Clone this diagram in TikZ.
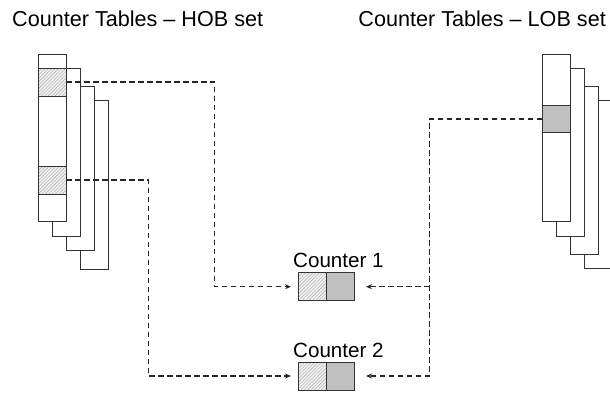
\documentclass[tikz,border=0pt]{standalone}
\usepackage{fontspec}
\setmainfont{Liberation Sans}
\usetikzlibrary{patterns.meta,arrows.meta}
\definecolor{edge}{HTML}{333333}
\definecolor{cellgray}{HTML}{C0C0C0}
\definecolor{hatchbg}{HTML}{F0F0F0}
\definecolor{hatchline}{HTML}{A8A8A8}

\begin{document}
\begin{tikzpicture}[x=1pt,y=-1pt,
  tbl/.style={draw=edge, line width=0.9pt, fill=white},
  cellbase/.style={draw=edge, line width=0.9pt, minimum width=28pt, minimum height=28pt,
    inner sep=0pt, outer sep=0pt},
  hatchcell/.style={cellbase, preaction={fill=hatchbg},
    pattern={Lines[angle=45,distance=2.4pt,line width=0.4pt]}, pattern color=hatchline},
  greycell/.style={cellbase, fill=cellgray},
  link/.style={draw=black!85, line width=1.3pt, dash pattern=on 5.5pt off 3.5pt},
  tip/.style={-{Stealth[length=6pt,width=5pt]}},
  title/.style={font=\fontsize{21.6}{26}\selectfont, inner sep=0pt},
  lbl/.style={font=\fontsize{20.6}{25}\selectfont, inner sep=0pt}
]
\useasboundingbox (0,0) rectangle (610,392);
\clip (0,0) rectangle (610,392);

% titles
\node[title, anchor=base west] (thob) at (12,26) {Counter Tables -- HOB set};
\node[title, anchor=base east] (tlob) at (606,26) {Counter Tables -- LOB set};

% HOB stack of tables (back to front)
\draw[tbl] (80.3,100.7) rectangle (108.3,269);
\draw[tbl] (66.3,86.7) rectangle (94.3,250);
\draw[tbl] (52.3,68) rectangle (80.3,236);
\draw[tbl] (38.3,54) rectangle (66.3,221.7);
\node[hatchcell] (h1) at (52.3,82) {};
\node[hatchcell] (h2) at (52.3,180) {};

% LOB stack of tables (back to front)
\draw[tbl] (584.3,100.7) rectangle (614,268.7);
\draw[tbl] (570.3,86.7) rectangle (598.3,254);
\draw[tbl] (556.3,68) rectangle (584.3,236);
\draw[tbl] (542.3,54) rectangle (570.3,221.7);
\node[greycell, minimum height=27.7pt] (l1) at (556.3,118.9) {};

% counters
\node[hatchcell] (c1h) at (312,286.7) {};
\node[greycell] (c1g) at (340,286.7) {};
\node[hatchcell] (c2h) at (312,376) {};
\node[greycell] (c2g) at (340,376) {};
\node[lbl, anchor=base west] (n1) at (293,267) {Counter 1};
\node[lbl, anchor=base west] (n2) at (293,357) {Counter 2};

% routing columns of the dashed links
\coordinate (k1) at (214.5,0);
\coordinate (k2) at (148.5,0);
\coordinate (kr) at (429.5,0);
\coordinate (jr) at (kr |- c1g.east);

\draw[link, tip] (h1.east) -- (h1.east -| k1) |- ([xshift=-7pt]c1h.west);
\draw[link, tip] (h2.east) -- (h2.east -| k2) |- ([xshift=-7pt]c2h.west);
\draw[link, tip] (l1.west) -- (l1.west -| kr) |- ([xshift=12pt]c2g.east);
\draw[link, tip] (jr) -- ([xshift=12pt]c1g.east);
\end{tikzpicture}
\end{document}
